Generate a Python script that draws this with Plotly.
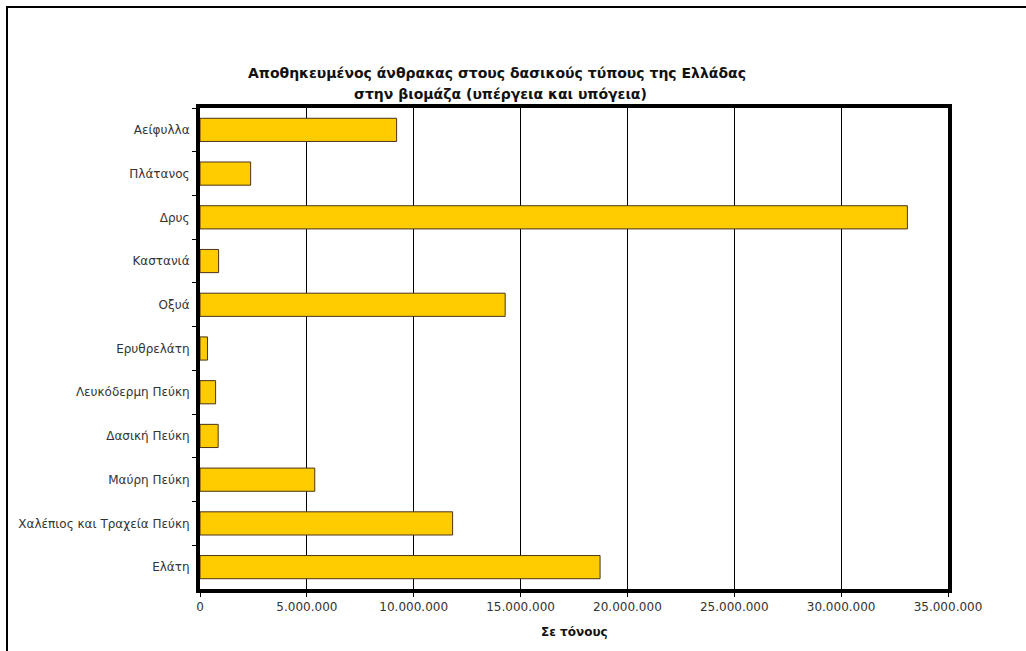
import plotly.graph_objects as go

categories = ["Αείφυλλα", "Πλάτανος", "Δρυς", "Καστανιά", "Οξυά", "Ερυθρελάτη",
              "Λευκόδερμη Πεύκη", "Δασική Πεύκη", "Μαύρη Πεύκη",
              "Χαλέπιος και Τραχεία Πεύκη", "Ελάτη"]
values = [9200000, 2370000, 33100000, 870000, 14280000, 350000,
          730000, 850000, 5370000, 11820000, 18720000]
x_ticks = [0, 5000000, 10000000, 15000000, 20000000, 25000000, 30000000, 35000000]
title_lines = ["Αποθηκευμένος άνθρακας στους δασικούς τύπους της Ελλάδας",
               "στην βιομάζα (υπέργεια και υπόγεια)"]

W, H = 1026, 651
L, R, T, B = 200, 948, 108, 589

fig = go.Figure(go.Bar(
    y=categories, x=values, orientation="h",
    marker=dict(color="#FFCC00", line=dict(color="#4a3418", width=1)),
    width=0.53,
))

font_main = "DejaVu Sans, Verdana, sans-serif"
fig.update_layout(
    width=W, height=H,
    margin=dict(l=L, r=W - R, t=T, b=H - B, pad=0),
    paper_bgcolor="white", plot_bgcolor="white",
    separators=",.",
    showlegend=False,
    font=dict(family=font_main, size=12, color="#333333"),
    xaxis=dict(
        range=[0, 35000000], tickvals=x_ticks, tickformat=",d",
        showgrid=True, gridcolor="black", gridwidth=1,
        showline=True, linecolor="black", linewidth=4, mirror=True,
        ticks="outside", ticklen=4, tickcolor="black", tickwidth=1,
        tickfont=dict(size=12, color="#333333"), zeroline=False,
        fixedrange=True,
    ),
    yaxis=dict(
        autorange="reversed", type="category",
        showline=True, linecolor="black", linewidth=4, mirror=True,
        ticks="outside", ticklen=4, tickcolor="black", tickwidth=1,
        tickson="boundaries", ticklabelstandoff=4,
        tickfont=dict(size=12, color="#333333"),
        showgrid=False,
    ),
    bargap=0.47,
)

for line, (cx, cy) in zip(title_lines, [(497, 73), (500, 94)]):
    fig.add_annotation(
        text="<b>" + line + "</b>", xref="paper", yref="paper",
        x=(cx - L) / (R - L), y=(B - cy) / (B - T),
        xanchor="center", yanchor="middle", showarrow=False,
        font=dict(family=font_main, size=14, color="#111111"),
    )

fig.add_annotation(
    text="<b>Σε τόνους</b>", xref="paper", yref="paper",
    x=0.5, y=(B - 632) / (B - T), xanchor="center", yanchor="middle",
    showarrow=False, font=dict(family=font_main, size=12, color="#111111"),
)

fig.add_shape(
    type="rect", xref="paper", yref="paper",
    x0=(7 - L) / (R - L), x1=(1040 - L) / (R - L),
    y0=(B - 660) / (B - T), y1=(B - 7) / (B - T),
    line=dict(color="black", width=2), fillcolor="rgba(0,0,0,0)", layer="above",
)

fig.write_html("out.html")
